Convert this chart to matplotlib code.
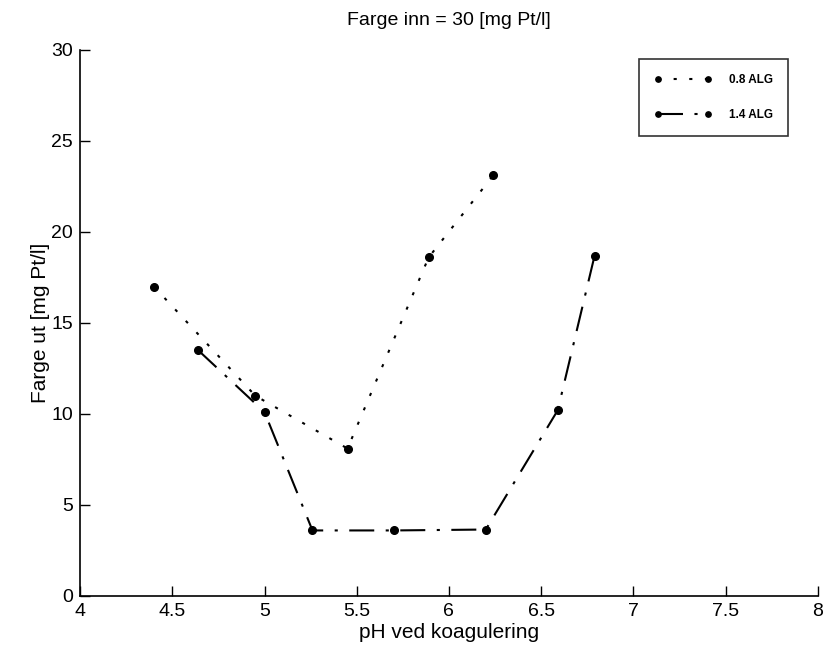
import matplotlib
matplotlib.use("Agg")
import matplotlib.pyplot as plt

# 0.8 ALG series
ph_08 = [4.40, 4.95, 5.45, 5.89, 6.24]
farge_08 = [17.0, 11.0, 8.1, 18.6, 23.1]

# 1.4 ALG series
ph_14 = [4.64, 5.00, 5.26, 5.70, 6.20, 6.59, 6.79]
farge_14 = [13.5, 10.1, 3.6, 3.6, 3.65, 10.2, 18.7]

XTICKS = [4, 4.5, 5, 5.5, 6, 6.5, 7, 7.5, 8]
YTICKS = [0, 5, 10, 15, 20, 25, 30]

plt.rcParams["font.family"] = ["Liberation Sans", "DejaVu Sans"]

fig = plt.figure(figsize=(8.26, 6.56), dpi=100)
ax = fig.add_axes([0.097, 0.0915, 0.893, 0.8325])

ax.plot(ph_08, farge_08, color="black", lw=1.5, linestyle=(0, (1.5, 6)),
        marker="o", ms=5.5, label="0.8 ALG")
ax.plot(ph_14, farge_14, color="black", lw=1.5, linestyle=(0, (12, 5.5, 1.5, 5.5)),
        marker="o", ms=5.5, label="1.4 ALG")

ax.set_xlim(4, 8)
ax.set_ylim(0, 30)
ax.set_xticks(XTICKS)
ax.set_xticklabels([f"{t:g}" for t in XTICKS])
ax.set_yticks(YTICKS)
ax.tick_params(direction="in", length=7, width=1, labelsize=14, pad=5)
for s in ("top", "right"):
    ax.spines[s].set_visible(False)
for s in ("left", "bottom"):
    ax.spines[s].set_linewidth(1.2)

ax.set_xlabel("pH ved koagulering", fontsize=15, labelpad=2)
ax.set_ylabel("Farge ut [mg Pt/l]", fontsize=15, labelpad=1)
ax.set_title("Farge inn = 30 [mg Pt/l]", fontsize=14, pad=18)

leg = ax.legend(loc="upper right", bbox_to_anchor=(0.96, 0.983), fontsize=8.5,
                numpoints=2, markerscale=0.7, handlelength=4.8, handletextpad=1.5,
                borderpad=1.3, labelspacing=1.9, fancybox=False, frameon=True,
                borderaxespad=0)
leg.get_frame().set_edgecolor("black")
leg.get_frame().set_linewidth(1.2)
for t in leg.get_texts():
    t.set_fontweight("bold")

fig.savefig("out.png", dpi=100)
